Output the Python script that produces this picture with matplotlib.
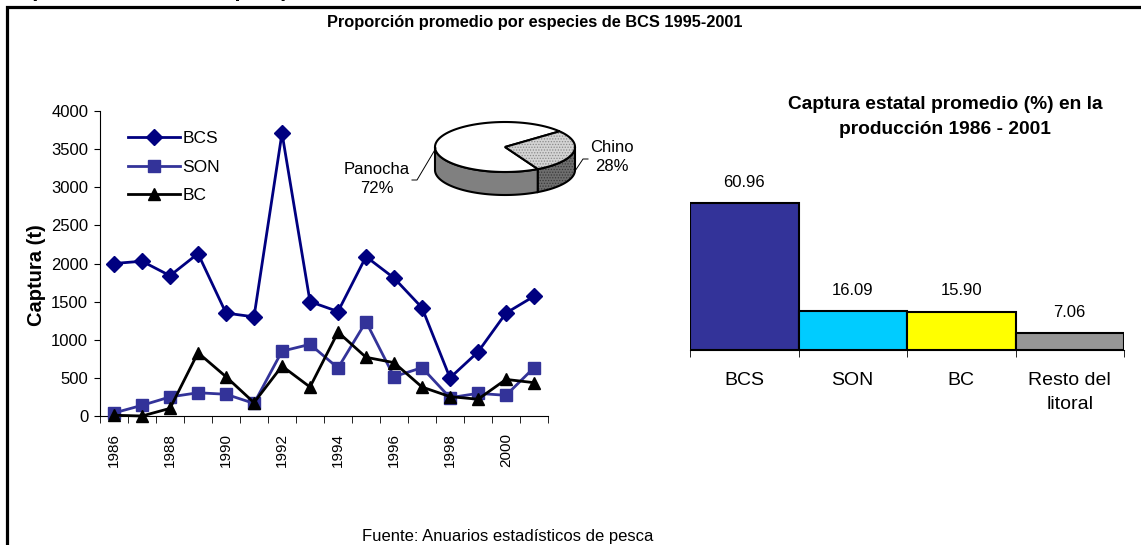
#!/usr/bin/env python3
"""Captura por estado 1986-2001, proporcion por especies (pie 3D) y captura estatal promedio."""

import numpy as np
import matplotlib

matplotlib.use("Agg")
import matplotlib.pyplot as plt
from matplotlib.patches import Polygon

plt.rcParams["font.family"] = ["Liberation Sans", "DejaVu Sans"]
plt.rcParams["hatch.linewidth"] = 0.6

W, H = 1141, 545

years = list(range(1986, 2002))
bcs = [2000, 2030, 1840, 2130, 1350, 1300, 3710, 1500, 1370, 2090, 1810, 1420, 500, 840, 1350, 1570]
son = [40, 140, 250, 305, 285, 165, 850, 940, 630, 1237, 516, 634, 240, 297, 271, 634]
bc = [10, 0, 100, 830, 515, 175, 655, 380, 1100, 770, 700, 380, 254, 220, 480, 437]

pie_labels = ["Panocha", "Chino"]
pie_values = [72, 28]

bar_labels = ["BCS", "SON", "BC", "Resto del\nlitoral"]
bar_values = [60.96, 16.09, 15.90, 7.06]
bar_colors = ["#333399", "#00ccff", "#ffff00", "#969696"]


def rect(x0, y0, x1, y1):
    # pixel box (top-left origin) -> figure fraction rect
    return [x0 / W, (H - y1) / H, (x1 - x0) / W, (y1 - y0) / H]


fig = plt.figure(figsize=(W / 100, H / 100), dpi=100)

# ---- line chart
ax = fig.add_axes(rect(100, 111, 548, 416))
x = np.arange(len(years))
ax.plot(x, bcs, color="#000080", lw=2, marker="D", ms=8, label="BCS", clip_on=False, zorder=4)
ax.plot(x, son, color="#333399", lw=2, marker="s", ms=8.5, label="SON", clip_on=False, zorder=3)
ax.plot(x, bc, color="black", lw=2, marker="^", ms=9, label="BC", clip_on=False, zorder=5)
ax.set_xlim(-0.5, len(years) - 0.5)
ax.set_ylim(0, 4000)
ax.set_yticks(np.arange(0, 4001, 500))
ax.set_xticks(x[::2])
ax.set_xticklabels([str(y) for y in years[::2]], rotation=90, va="top")
ax.set_xticks(np.arange(-0.5, len(years), 1.0), minor=True)
ax.tick_params(axis="x", which="major", length=0, pad=12, labelsize=11)
ax.tick_params(axis="x", which="minor", length=5, direction="out", color="black")
ax.tick_params(axis="y", length=4.5, pad=4, labelsize=12, direction="out")
for s in ("top", "right"):
    ax.spines[s].set_visible(False)
for s in ("left", "bottom"):
    ax.spines[s].set_color("black")
ax.set_facecolor("none")
ax.legend(loc="upper left", bbox_to_anchor=(0.035, 0.975), frameon=False, fontsize=12.5,
          handlelength=3.0, handletextpad=0.15, labelspacing=0.78, borderaxespad=0.3)

# ---- bar chart
bx = fig.add_axes(rect(690, 181.3, 1124, 350))
bpos = np.arange(len(bar_values))
bx.bar(bpos, bar_values, width=1.0, color=bar_colors, edgecolor="black", lw=1.5, zorder=3)
for xi, v in zip(bpos, bar_values):
    bx.annotate(f"{v:.2f}", (xi, v), xytext=(0, 15), textcoords="offset points",
                ha="center", va="center", fontsize=12, annotation_clip=False)
bx.set_xlim(-0.5, len(bar_values) - 0.5)
bx.set_ylim(0, 70)
bx.set_yticks([])
bx.set_xticks(bpos)
bx.set_xticklabels(bar_labels, fontsize=14, va="top", linespacing=1.55)
bx.set_xticks(np.arange(-0.5, len(bar_values), 1.0), minor=True)
bx.tick_params(axis="x", which="major", length=0, pad=16)
bx.tick_params(axis="x", which="minor", length=5, direction="out", color="black")
for s in ("top", "right", "left"):
    bx.spines[s].set_visible(False)
bx.spines["bottom"].set_color("black")
bx.set_facecolor("none")

# ---- overlay in pixel coordinates: pie, texts, frame
ov = fig.add_axes([0, 0, 1, 1], zorder=10)
ov.set_xlim(0, W)
ov.set_ylim(H, 0)
ov.axis("off")

cx, cy, rx, ry, depth = 505, 147, 70, 25, 23
tot = float(sum(pie_values))
chino_start = -62.0
chino_end = chino_start + 360 * pie_values[1] / tot
spans = {
    "Chino": (chino_start, chino_end),
    "Panocha": (chino_end, chino_start + 360),
}


def arc(a0, a1, dy=0.0, n=80):
    t = np.radians(np.linspace(a0, a1, n))
    return np.column_stack([cx + rx * np.cos(t), cy - ry * np.sin(t) + dy])


def side(a0, a1):
    # visible front wall between angles (degrees, within 180..360)
    top = arc(a0, a1)
    bot = arc(a0, a1, dy=depth)[::-1]
    return np.vstack([top, bot])


styles = {
    "Panocha": dict(top="white", side="#808080", hatch=None),
    "Chino": dict(top="#d4d4d4", side="#6e6e6e", hatch="......"),
}

# side walls
p_a0, p_a1 = spans["Panocha"]
c_a0, c_a1 = spans["Chino"]
walls = [("Panocha", max(p_a0, 180), min(p_a1, 360)), ("Chino", c_a0 + 360, 360)]
for name, a0, a1 in walls:
    st = styles[name]
    pts = side(a0, a1)
    if st["hatch"]:
        ov.add_patch(Polygon(pts, closed=True, facecolor=st["side"], edgecolor="#3a3a3a",
                             lw=0, hatch=st["hatch"]))
        ov.add_patch(Polygon(pts, closed=True, fill=False, edgecolor="black", lw=1.5))
    else:
        ov.add_patch(Polygon(pts, closed=True, facecolor=st["side"], edgecolor="black", lw=1.5))

# top faces
for name in pie_labels:
    a0, a1 = spans[name]
    st = styles[name]
    pts = np.vstack([[cx, cy], arc(a0, a1)])
    if st["hatch"]:
        ov.add_patch(Polygon(pts, closed=True, facecolor=st["top"], edgecolor="#8a8a8a",
                             lw=0, hatch=st["hatch"]))
        ov.add_patch(Polygon(pts, closed=True, fill=False, edgecolor="black", lw=1.5))
    else:
        ov.add_patch(Polygon(pts, closed=True, facecolor=st["top"], edgecolor="black", lw=1.5))

# pie labels + leaders
ov.plot([412, 417, 436], [180, 180, 148], color="black", lw=0.7)
ov.plot([575, 583, 588], [171, 159, 159], color="black", lw=0.7)
ov.text(377, 179, f"{pie_labels[0]}\n{pie_values[0]}%", ha="center", va="center",
        fontsize=12, linespacing=1.3)
ov.text(612, 157, f"{pie_labels[1]}\n{pie_values[1]}%", ha="center", va="center",
        fontsize=12, linespacing=1.3)

# titles and notes
ov.text(37, 275, "Captura (t)", rotation=90, ha="center", va="center",
        fontsize=14.5, fontweight="bold")
ov.text(535, 22, "Proporción promedio por especies de BCS 1995-2001", ha="center",
        va="center", fontsize=11.8, fontweight="bold")
ov.text(945, 117, "Captura estatal promedio (%) en la\nproducción 1986 - 2001", ha="center",
        va="center", fontsize=13.8, fontweight="bold", linespacing=1.55)
ov.text(508, 537, "Fuente: Anuarios estadísticos de pesca", ha="center", va="center",
        fontsize=12)

# cut-off heading at the very top
ov.text(20, -4, "b) Indicadores de la pesquería", ha="left", va="baseline",
        fontsize=16, fontweight="bold", clip_on=False)

# frame (left and top edges)
ov.plot([6.5, 6.5, W], [H, 6.5, 6.5], color="black", lw=2.3, solid_joinstyle="miter",
        clip_on=False)

fig.savefig("out.png", dpi=100)
